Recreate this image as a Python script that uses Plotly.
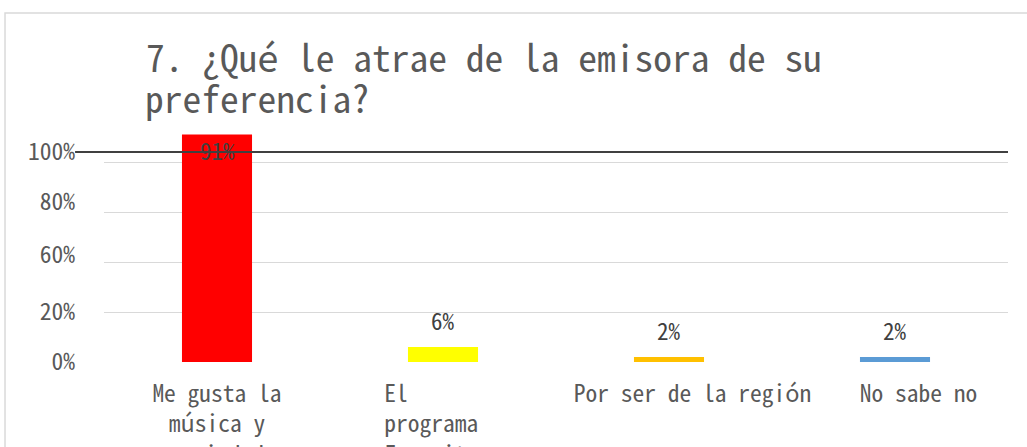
import plotly.graph_objects as go

NB = "\u00a0"

# data
categories = [
    "Me gusta la<br>música y<br>variedad",
    "El" + NB * 8 + "<br>programa" + NB * 2 + "<br>Favorito" + NB * 2,
    NB * 4 + "Por ser de la región",
    NB * 4 + "No sabe no",
]
values = [0.91, 0.06, 0.02, 0.02]
labels = ["91%", "6%", "2%", "2%"]
bar_colors = ["#FF0000", "#FFFF00", "#FFC000", "#5B9BD5"]

title_lines = ["7. ¿Qué le atrae de la emisora de su", "preferencia?"]

# y axis labels as printed in the source (shifted relative to the grid)
grid_vals = [0, 0.2, 0.4, 0.6, 0.8]
tick_vals = [0, 0.2, 0.43, 0.64, 0.84]
tick_text = ["0%", "20%", "60%", "80%", "100%"]
ref_line = 0.84

FONT = "Noto Sans Mono CJK JP, MS Gothic, Liberation Mono, monospace"

fig = go.Figure()
fig.add_trace(go.Bar(
    x=categories,
    y=values,
    width=0.31,
    marker=dict(color=bar_colors, line_width=0),
    hoverinfo='skip',
))

# data labels
for cat, val, lab in zip(categories, values, labels):
    big = val > 0.5
    fig.add_annotation(
        x=cat, y=val, text=lab, showarrow=False,
        yanchor='top' if big else 'bottom',
        yshift=4 if big else 8,
        font=dict(size=23, color='#404040', family=FONT),
    )

# second title line (Excel-like tight line spacing)
fig.add_annotation(
    x=(143 - 104) / 904, y=(362 - 96) / 232, xref='paper', yref='paper',
    xanchor='left', yanchor='middle', showarrow=False,
    text=title_lines[1],
    font=dict(size=37.5, color='#595959', family=FONT),
)

# black reference line
fig.add_shape(type='line', xref='paper', yref='y',
              x0=-0.032, x1=1.0, y0=ref_line, y1=ref_line,
              line=dict(color='#404040', width=2), layer='above')

# chart border
fig.add_shape(type='rect', xref='paper', yref='paper',
              x0=-0.1095, x1=1.03, y0=-0.4, y1=1.504,
              line=dict(color='#D9D9D9', width=1.5), layer='below')

fig.update_layout(
    width=1027, height=447,
    margin=dict(l=104, r=19, t=130, b=85, autoexpand=False),
    paper_bgcolor='white',
    plot_bgcolor='white',
    showlegend=False,
    font=dict(family=FONT, color='#595959'),
    title=dict(
        text=title_lines[0],
        x=146 / 1027, xanchor='left', xref='container',
        y=1 - 59 / 447, yanchor='middle', yref='container',
        font=dict(size=37.5, color='#595959', family=FONT),
        automargin=False,
    ),
    xaxis=dict(
        showgrid=False, showline=False, zeroline=False,
        automargin=False,
        tickangle=0,
        tickfont=dict(size=23.5, color='#595959', family=FONT),
        ticklabelstandoff=15,
    ),
    yaxis=dict(
        range=[0, 0.928],
        automargin=False,
        tickvals=tick_vals, ticktext=tick_text,
        showgrid=False, zeroline=False, showline=False,
        tickfont=dict(size=23.5, color='#595959', family=FONT),
        ticklabelstandoff=28,
        minor=dict(tickvals=grid_vals, showgrid=True,
                   gridcolor='#D9D9D9', gridwidth=1.2),
    ),
)

fig.write_html("out.html", config={'displayModeBar': False},
               post_script="document.body.style.margin='0px';")
